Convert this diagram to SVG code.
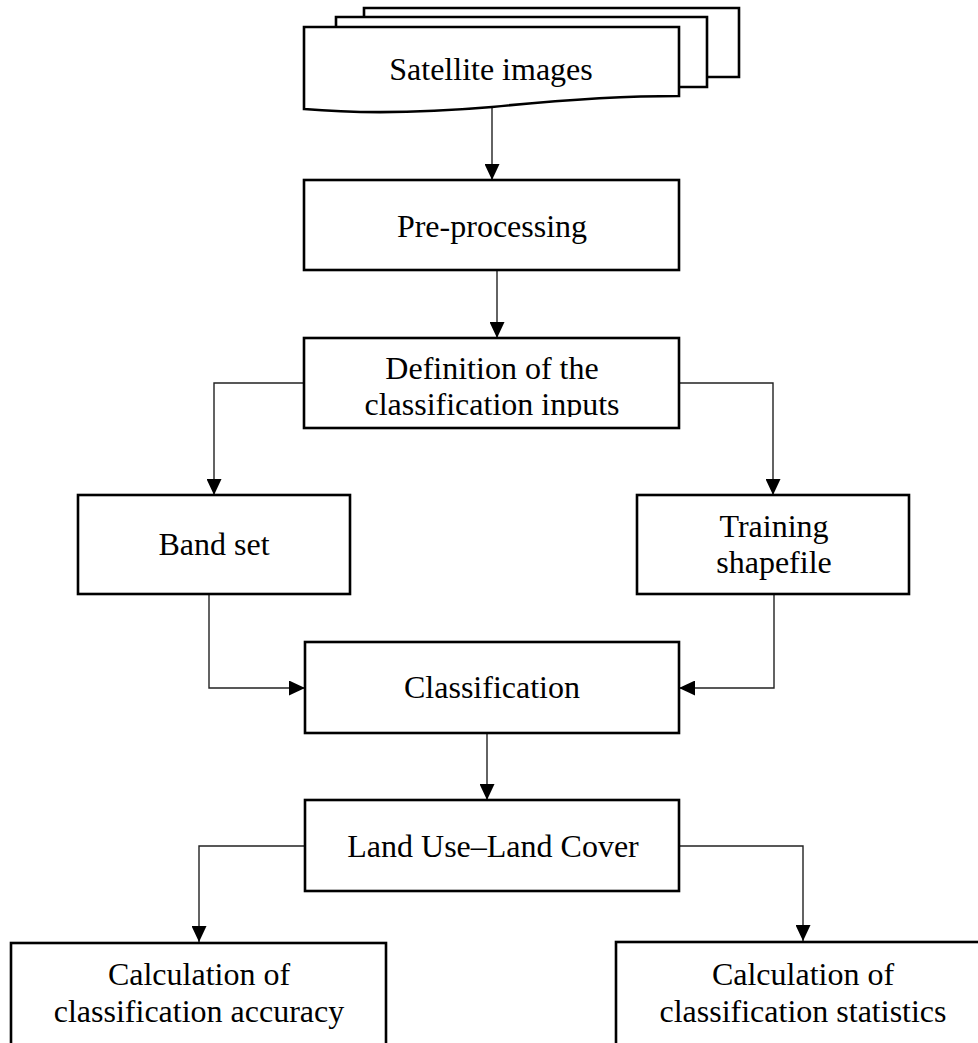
<svg xmlns="http://www.w3.org/2000/svg" width="978" height="1043" viewBox="0 0 978 1043">
  <style>
    .box { fill: #ffffff; stroke: #000000; stroke-width: 2.6; }
    .sheet { fill: #ffffff; stroke: #000000; stroke-width: 2.6; stroke-linejoin: miter; }
    .lbl { font-family: "Liberation Serif", "Times New Roman", serif; font-size: 32px; fill: #000000; text-anchor: middle; }
    .edge { fill: none; stroke: #222222; stroke-width: 1.4; }
  </style>
  <defs>
    <marker id="arrow" markerUnits="userSpaceOnUse" markerWidth="16" markerHeight="15" refX="16" refY="7.5" orient="auto">
      <path d="M0,0 L16,7.5 L0,15 Z" fill="#000000"/>
    </marker>
    <clipPath id="defClip">
      <rect x="304" y="338" width="375" height="79"/>
    </clipPath>
  </defs>

  <rect width="978" height="1043" fill="#ffffff"/>

  <!-- connectors -->
  <g id="connectors">
    <path class="edge" d="M492,108 V180" marker-end="url(#arrow)"/>
    <path class="edge" d="M497,270 V338" marker-end="url(#arrow)"/>
    <path class="edge" d="M304,383 H214 V495" marker-end="url(#arrow)"/>
    <path class="edge" d="M679,383 H773 V495" marker-end="url(#arrow)"/>
    <path class="edge" d="M209,594 V688 H305" marker-end="url(#arrow)"/>
    <path class="edge" d="M774,594 V688 H679" marker-end="url(#arrow)"/>
    <path class="edge" d="M487,733 V800" marker-end="url(#arrow)"/>
    <path class="edge" d="M305,846 H199 V942" marker-end="url(#arrow)"/>
    <path class="edge" d="M679,846 H803 V941" marker-end="url(#arrow)"/>
  </g>

  <!-- stacked document sheets -->
  <g id="satellite">
    <path class="sheet" d="M364,17 V8 H739 V77 H707"/>
    <path class="sheet" d="M336,27 V17 H707 V87 H679"/>
    <path class="sheet" d="M304,27 H679 V96 C620,96 560,100 492,107 C410,114 350,113 304,109 Z"/>
    <text class="lbl" x="491" y="80">Satellite images</text>
  </g>

  <g id="preprocessing">
    <rect class="box" x="304" y="180" width="375" height="90"/>
    <text class="lbl" x="492" y="237">Pre-processing</text>
  </g>

  <g id="definition">
    <rect class="box" x="304" y="338" width="375" height="90"/>
    <g clip-path="url(#defClip)">
      <text class="lbl" x="492" y="379">Definition of the</text>
      <text class="lbl" x="492" y="415">classification inputs</text>
    </g>
  </g>

  <g id="bandset">
    <rect class="box" x="78" y="495" width="272" height="99"/>
    <text class="lbl" x="214" y="555">Band set</text>
  </g>

  <g id="training">
    <rect class="box" x="637" y="495" width="272" height="99"/>
    <text class="lbl" x="774" y="537">Training</text>
    <text class="lbl" x="774" y="573">shapefile</text>
  </g>

  <g id="classification">
    <rect class="box" x="305" y="642" width="374" height="91"/>
    <text class="lbl" x="492" y="698">Classification</text>
  </g>

  <g id="lulc">
    <rect class="box" x="305" y="800" width="374" height="91"/>
    <text class="lbl" x="493" y="857">Land Use–Land Cover</text>
  </g>

  <g id="accuracy">
    <rect class="box" x="11" y="943" width="375" height="110"/>
    <text class="lbl" x="199" y="985">Calculation of</text>
    <text class="lbl" x="199" y="1022">classification accuracy</text>
  </g>

  <g id="statistics">
    <rect class="box" x="616" y="942" width="375" height="110"/>
    <text class="lbl" x="803" y="985">Calculation of</text>
    <text class="lbl" x="803" y="1022">classification statistics</text>
  </g>
</svg>
